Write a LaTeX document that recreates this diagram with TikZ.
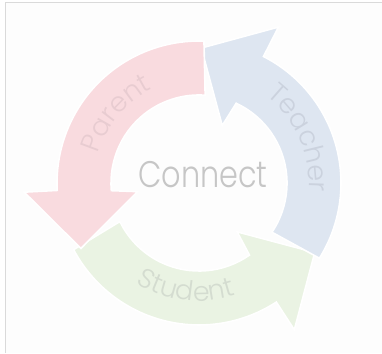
\documentclass[tikz,border=0pt]{standalone}
\usepackage{fontspec}
\setmainfont{Poppins}
\newfontfamily\thinfont{Poppins}[UprightFont=* Light]
\newfontfamily\thinnarrow{Poppins}[UprightFont=* Light, FakeStretch=0.82]
\usetikzlibrary{calc,decorations.text}
\definecolor{redfill}{RGB}{249,219,223}
\definecolor{bluefill}{RGB}{222,230,241}
\definecolor{greenfill}{RGB}{234,243,227}
\definecolor{redtext}{RGB}{232,204,209}
\definecolor{bluetext}{RGB}{203,210,222}
\definecolor{greentext}{RGB}{212,220,208}
\definecolor{centertext}{RGB}{198,198,198}
\definecolor{bordergray}{RGB}{218,218,218}
\definecolor{pagebg}{RGB}{253,253,253}
\newcommand{\cycarrow}[2]{%
  \filldraw[fill=#2, draw=white, line width=1.6pt, line join=miter]
    ($(C)+(#1+1:142pt)$) arc[start angle=#1+1, end angle=#1+96, radius=142pt]
    -- ($(C)+(#1+96:175pt)$)
    -- ($(C)+(#1+122:135pt)$)
    -- ($(C)+(#1+101:62pt)$)
    -- ($(C)+(#1+98:88pt)$)
    arc[start angle=#1+98, end angle=#1-1, radius=88pt]
    -- cycle;}
\begin{document}
\begin{tikzpicture}[x=1pt,y=1pt]
\useasboundingbox (0,0) rectangle (382,353);
\fill[white] (0,0) rectangle (382,353);
\fill[pagebg] (5.5,0) rectangle (382,350.5);
\draw[bordergray, line width=1.6pt] (5.5,0) -- (5.5,350.5) -- (382,350.5);
\coordinate (C) at (199,170);
% arrows
\cycarrow{207}{greenfill}
\cycarrow{-33}{bluefill}
\cycarrow{87}{redfill}
% labels along arcs
\path[decorate, decoration={text along path, text align=center, text color=redtext,
  text={|\thinfont\fontsize{27}{27}\selectfont|Parent}}]
  ($(C)+(178:105pt)$) arc[start angle=178, end angle=102, radius=105pt];
\path[decorate, decoration={text along path, text align=center, text color=bluetext,
  text={|\thinfont\fontsize{27}{27}\selectfont|Teacher}}]
  ($(C)+(70:110pt)$) arc[start angle=70, end angle=-22, radius=110pt];
\path[decorate, decoration={text along path, text align=center, text color=greentext,
  text={|\thinfont\fontsize{27}{27}\selectfont|Student}}]
  ($(C)+(220:118pt)$) arc[start angle=220, end angle=306, radius=118pt];
% centre text
\node[anchor=base, text=centertext, font=\thinnarrow\fontsize{37}{37}\selectfont, inner sep=0pt] (connect) at (203,165) {Connect};
\end{tikzpicture}
\end{document}
